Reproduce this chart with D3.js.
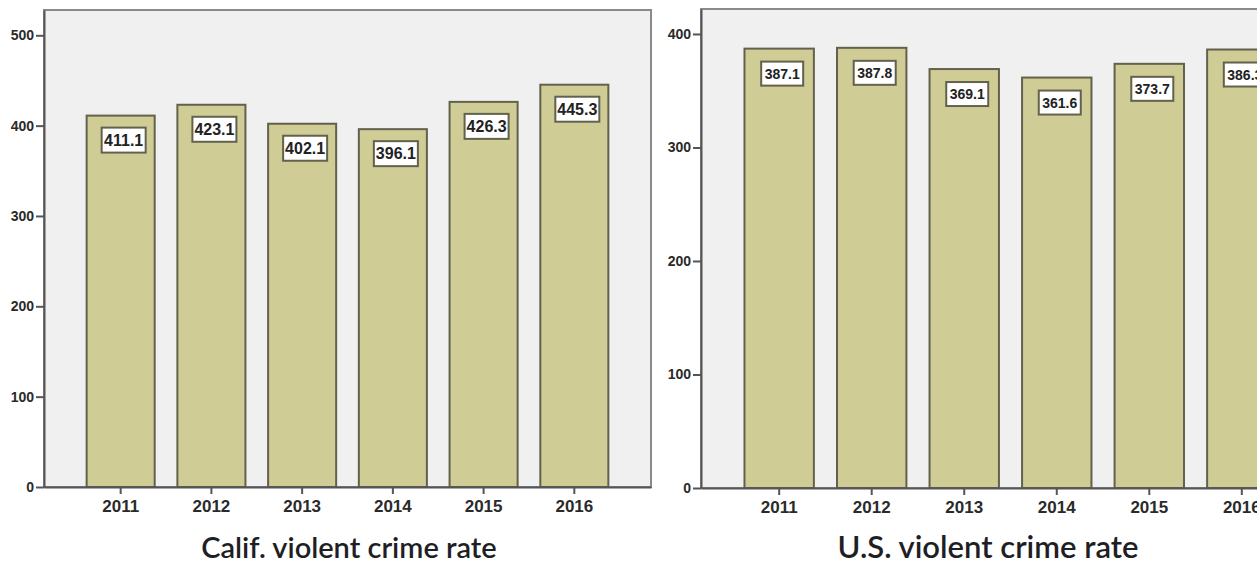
<!DOCTYPE html>
<html>
<head>
<meta charset="utf-8">
<script src="https://cdn.jsdelivr.net/npm/d3@7"></script>
<style>
  body { margin: 0; background: #fff; }
  .axis text { font-family: "Liberation Sans", Arial, sans-serif; font-weight: bold; fill: #2a2a2a; }
  .axis line, .axis path { stroke: #555; stroke-width: 2; }
  .title { font-family: Lato, "Open Sans", sans-serif; font-weight: 600; fill: #1e1e24; }
  .value { font-family: "Liberation Sans", Arial, sans-serif; font-weight: bold; fill: #222; }
</style>
</head>
<body>
<div id="chart"></div>
<script>
const years = ['2011', '2012', '2013', '2014', '2015', '2016'];
const califRates = [411.1, 423.1, 402.1, 396.1, 426.3, 445.3];
const usRates = [387.1, 387.8, 369.1, 361.6, 373.7, 386.3];
const califTicks = [0, 100, 200, 300, 400, 500];
const usTicks = [0, 100, 200, 300, 400];
const califTitle = 'Calif. violent crime rate';
const usTitle = 'U.S. violent crime rate';

const svgWidth = 1257;
const svgHeight = 565;

const svg = d3.select('#chart').append('svg')
  .attr('width', svgWidth)
  .attr('height', svgHeight);

function drawPanel(p) {
  const x = d3.scaleBand()
    .domain(years)
    .range([p.left, p.right])
    .paddingInner(0.25)
    .paddingOuter(0.47);

  const y = d3.scaleLinear()
    .domain([0, p.yMax])
    .range([p.bottom, p.top]);

  const g = svg.append('g');

  // plot frame
  g.append('rect')
    .attr('x', p.left)
    .attr('y', p.top)
    .attr('width', p.right - p.left)
    .attr('height', p.bottom - p.top)
    .attr('fill', '#f0f0f0')
    .attr('stroke', '#8a8a8a')
    .attr('stroke-width', 2);

  g.selectAll('rect.bar')
    .data(p.values)
    .enter().append('rect')
    .attr('class', 'bar')
    .attr('x', (d, i) => x(years[i]))
    .attr('y', (d) => y(d))
    .attr('width', x.bandwidth())
    .attr('height', (d) => y(0) - y(d))
    .attr('fill', '#d0cc96')
    .attr('stroke', '#62614d')
    .attr('stroke-width', 2);

  const labels = g.selectAll('g.label')
    .data(p.values)
    .enter().append('g')
    .attr('class', 'label')
    .attr('transform', (d, i) => `translate(${x(years[i]) + x.bandwidth() / 2 + 3}, ${y(d) + p.boxOffset})`);

  labels.append('rect')
    .attr('x', -p.boxW / 2)
    .attr('y', 0)
    .attr('width', p.boxW)
    .attr('height', p.boxH)
    .attr('fill', '#fff')
    .attr('stroke', '#62614d')
    .attr('stroke-width', 2);

  labels.append('text')
    .attr('class', 'value')
    .attr('x', 0)
    .attr('y', p.boxH / 2)
    .attr('dy', '0.36em')
    .attr('text-anchor', 'middle')
    .style('font-size', p.valueSize + 'px')
    .text((d) => d.toFixed(1));

  g.append('g')
    .attr('class', 'axis')
    .attr('transform', `translate(${p.left}, 0)`)
    .call(d3.axisLeft(y).tickValues(p.ticks).tickSize(8).tickPadding(2).tickSizeOuter(0))
    .call((a) => a.selectAll('text').style('font-size', p.yTickSize + 'px'));

  g.append('g')
    .attr('class', 'axis')
    .attr('transform', `translate(0, ${p.bottom})`)
    .call(d3.axisBottom(x).tickSize(7).tickPadding(6).tickSizeOuter(0))
    .call((a) => a.selectAll('text').style('font-size', '17px'));

  g.append('text')
    .attr('class', 'title')
    .attr('x', p.titleX)
    .attr('y', 558)
    .attr('text-anchor', 'middle')
    .style('font-size', p.titleSize + 'px')
    .text(p.title);
}

drawPanel({
  values: califRates, ticks: califTicks, title: califTitle,
  left: 44, right: 651, top: 10, bottom: 487, yMax: 528,
  boxOffset: 12, boxW: 44, boxH: 25, valueSize: 16, yTickSize: 14,
  titleX: 349, titleSize: 29,
});

drawPanel({
  values: usRates, ticks: usTicks, title: usTitle,
  left: 701, right: 1320, top: 9, bottom: 488, yMax: 422,
  boxOffset: 13, boxW: 42, boxH: 24, valueSize: 14, yTickSize: 14,
  titleX: 988, titleSize: 31,
});
</script>
</body>
</html>
